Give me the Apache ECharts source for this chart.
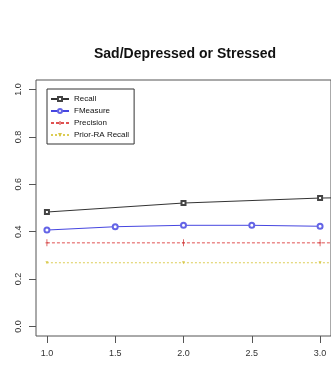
<!DOCTYPE html>
<html>
<head>
<meta charset="utf-8">
<script src="https://cdn.jsdelivr.net/npm/echarts@6/dist/echarts.min.js"></script>
<style>
  html, body { margin: 0; padding: 0; background: #fff; }
  #chart { width: 331px; height: 365px; }
</style>
</head>
<body>
<div id="chart"></div>
<script>
// Series values, one list per measure (x position, value)
const recallX = [1, 2, 3, 4];
const recallY = [0.483, 0.521, 0.542, 0.55];
const fmeasureX = [1, 1.5, 2, 2.5, 3];
const fmeasureY = [0.407, 0.421, 0.427, 0.427, 0.423];
const precisionX = [1, 2, 3, 4];
const precisionY = [0.353, 0.353, 0.353, 0.353];
const priorX = [1, 2, 3, 4];
const priorY = [0.269, 0.269, 0.269, 0.269];

const seriesNames = ['Recall', 'FMeasure', 'Precision', 'Prior-RA Recall'];
const xTicks = [1.0, 1.5, 2.0, 2.5, 3.0];
const yTicks = [0.0, 0.2, 0.4, 0.6, 0.8, 1.0];

const pairs = (xs, ys) => xs.map((x, i) => [x, ys[i]]);

const font = 'Liberation Sans, Arial, Helvetica, sans-serif';

const chart = echarts.init(document.getElementById('chart'), null, { renderer: 'canvas' });

chart.setOption({
  animation: false,
  backgroundColor: '#fff',
  title: {
    text: 'Sad/Depressed or Stressed',
    left: 94,
    top: 47,
    padding: 0,
    textStyle: { fontFamily: font, fontSize: 14, fontWeight: 'bold', color: '#111' }
  },
  legend: {
    data: seriesNames,
    orient: 'vertical',
    left: 47,
    top: 89,
    padding: [6, 5, 5, 3],
    itemGap: 4,
    itemWidth: 18,
    itemHeight: 5,
    borderColor: '#333',
    borderWidth: 1,
    backgroundColor: '#fff',
    textStyle: { fontFamily: font, fontSize: 8, color: '#111', lineHeight: 8 }
  },
  grid: {
    left: 36,
    top: 80,
    right: -2,
    bottom: 29,
    show: true,
    borderColor: '#555',
    borderWidth: 1,
    containLabel: false
  },
  xAxis: {
    type: 'value',
    min: 0.92,
    max: 3.08,
    axisLine: { show: false, onZero: false },
    splitLine: { show: false },
    axisTick: { show: true, customValues: xTicks, length: 7, lineStyle: { color: '#555' } },
    axisLabel: {
      customValues: xTicks,
      margin: 13,
      fontFamily: font,
      fontSize: 9,
      color: '#333',
      formatter: v => v.toFixed(1)
    }
  },
  yAxis: {
    type: 'value',
    min: -0.04,
    max: 1.04,
    axisLine: { show: false, onZero: false },
    splitLine: { show: false },
    axisTick: { show: true, customValues: yTicks, length: 7, lineStyle: { color: '#555' } },
    axisLabel: {
      customValues: yTicks,
      rotate: 90,
      margin: 13,
      fontFamily: font,
      fontSize: 9,
      color: '#333',
      formatter: v => v.toFixed(1)
    }
  },
  series: [
    {
      name: 'Recall',
      type: 'line',
      clip: true,
      data: pairs(recallX, recallY),
      symbol: 'emptyRect',
      symbolSize: 4,
      color: '#333',
      lineStyle: { color: '#333', width: 1 },
      itemStyle: { color: '#444', borderWidth: 1 }
    },
    {
      name: 'FMeasure',
      type: 'line',
      clip: true,
      data: pairs(fmeasureX, fmeasureY),
      symbol: 'emptyCircle',
      symbolSize: 5,
      color: '#4646e0',
      lineStyle: { color: '#4646e0', width: 1 },
      itemStyle: { color: '#6464e6', borderWidth: 1 }
    },
    {
      name: 'Precision',
      type: 'line',
      clip: true,
      data: pairs(precisionX, precisionY),
      symbol: 'path://M2,0h1v10h-1zM0.5,4.5h4v1h-4z',
      symbolSize: [3, 7],
      color: '#e05252',
      lineStyle: { color: '#e05252', width: 1, type: [3, 2] },
      itemStyle: { color: '#d03838' }
    },
    {
      name: 'Prior-RA Recall',
      type: 'line',
      clip: true,
      data: pairs(priorX, priorY),
      symbol: 'triangle',
      symbolRotate: 180,
      symbolSize: 3,
      color: '#dccd55',
      lineStyle: { color: '#dccd55', width: 1, type: [2, 2] },
      itemStyle: { color: '#d8c84a' }
    }
  ]
});
</script>
</body>
</html>
